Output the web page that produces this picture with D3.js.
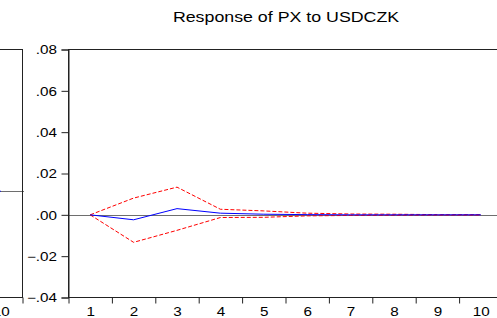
<!DOCTYPE html>
<html>
<head>
<meta charset="utf-8">
<script src="https://cdn.jsdelivr.net/npm/d3@7"></script>
<style>
  html, body { margin: 0; padding: 0; background: #fff; }
  svg { display: block; }
  text { font-family: "Liberation Sans", Arial, sans-serif; fill: #000; }
</style>
</head>
<body>
<svg id="chart" width="497" height="318"></svg>
<script>
// ---- data ----
const periods = [1, 2, 3, 4, 5, 6, 7, 8, 9, 10];
const response = [0.0000, -0.0024, 0.0030, 0.0008, 0.0003, 0.0001, 0.0000, 0.0000, 0.0000, 0.0000];
const upperBand = [0.0000, 0.0081, 0.0134, 0.0027, 0.0019, 0.0008, 0.0004, 0.0003, 0.0001, 0.0001];
const lowerBand = [0.0000, -0.0133, -0.0075, -0.0013, -0.0012, -0.0005, -0.0003, -0.0002, -0.0001, -0.0001];
const yTicks = [-0.04, -0.02, 0.00, 0.02, 0.04, 0.06, 0.08];
const title = "Response of PX to USDCZK";
// neighbouring (cropped) panel: only its last periods are visible
const leftResponse = [0.0000, 0.0000];
const leftPeriods = [9, 10];

const svg = d3.select("#chart");
const SX = 1.27; // horizontal text stretch seen in the reference
const fmt = v => (v === 0 ? ".00" : d3.format(".2f")(v).replace("0.", "."));

// ---- main panel ----
const x = d3.scaleLinear().domain([0.5, 10.5]).range([68.5, 502.5]);
const y = d3.scaleLinear().domain([-0.04, 0.08]).range([297.5, 49.5]);

// title
svg.append("text")
  .attr("transform", `translate(286,22) scale(${SX},1)`)
  .attr("text-anchor", "middle")
  .style("font-size", "14px")
  .text(title);

// zero line
svg.append("line")
  .attr("x1", x(0.5)).attr("x2", x(10.5))
  .attr("y1", Math.round(y(0)) + 0.5).attr("y2", Math.round(y(0)) + 0.5)
  .attr("stroke", "#6e6e6e").attr("stroke-width", 1.2);

// frame
svg.append("rect")
  .attr("x", x(0.5)).attr("y", y(0.08))
  .attr("width", x(10.5) - x(0.5)).attr("height", y(-0.04) - y(0.08))
  .attr("fill", "none").attr("stroke", "#222").attr("stroke-width", 1);

// y axis
const yAxis = svg.append("g").attr("transform", `translate(${x(0.5)},0)`)
  .call(d3.axisLeft(y).tickValues(yTicks).tickSize(7).tickFormat(fmt));
yAxis.select(".domain").attr("stroke", "#222");
yAxis.selectAll(".tick line").attr("stroke", "#222");
yAxis.selectAll(".tick text")
  .attr("x", -11.5 / SX).attr("dy", "0.36em")
  .attr("transform", `scale(${SX},1)`)
  .style("font-size", "12px").style("font-family", '"Liberation Sans", Arial, sans-serif');

// x axis: boundary ticks
const boundaries = d3.range(0.5, 11, 1);
const xTickAxis = svg.append("g").attr("transform", `translate(0,${y(-0.04)})`)
  .call(d3.axisBottom(x).tickValues(boundaries).tickSize(6).tickFormat(""));
xTickAxis.select(".domain").remove();
xTickAxis.selectAll(".tick line").attr("stroke", "#222");
// x axis labels
const xLabAxis = svg.append("g").attr("transform", `translate(0,${y(-0.04)})`)
  .call(d3.axisBottom(x).tickValues(periods).tickSize(0).tickFormat(d3.format("d")));
xLabAxis.select(".domain").remove();
xLabAxis.selectAll(".tick text")
  .attr("y", 10).attr("dy", "0.71em")
  .attr("transform", `scale(${SX},1)`)
  .style("font-size", "12px").style("font-family", '"Liberation Sans", Arial, sans-serif');

// series
const line = d3.line().x((d, i) => x(periods[i])).y(d => y(d));
svg.append("path").datum(upperBand).attr("d", line)
  .attr("fill", "none").attr("stroke", "#ff0000").attr("stroke-width", 1).attr("stroke-dasharray", "4,2");
svg.append("path").datum(lowerBand).attr("d", line)
  .attr("fill", "none").attr("stroke", "#ff0000").attr("stroke-width", 1).attr("stroke-dasharray", "4,2");
svg.append("path").datum(response).attr("d", line)
  .attr("fill", "none").attr("stroke", "#0000ff").attr("stroke-width", 1);

// ---- left (cropped) panel ----
const xL = d3.scaleLinear().domain([0.5, 10.5]).range([-411.5, 22.5]);
const yL = d3.scaleLinear().domain([-0.06, 0.08]).range([297.5, 49.5]);
svg.append("line")
  .attr("x1", xL(9)).attr("x2", 24)
  .attr("y1", Math.round(yL(0)) + 0.5).attr("y2", Math.round(yL(0)) + 0.5)
  .attr("stroke", "#6e6e6e").attr("stroke-width", 1.2);
svg.append("rect")
  .attr("x", xL(0.5)).attr("y", yL(0.08))
  .attr("width", xL(10.5) - xL(0.5)).attr("height", yL(-0.06) - yL(0.08))
  .attr("fill", "none").attr("stroke", "#222").attr("stroke-width", 1);
const xLTick = svg.append("g").attr("transform", `translate(0,${yL(-0.06)})`)
  .call(d3.axisBottom(xL).tickValues([10.5]).tickSize(6).tickFormat(""));
xLTick.select(".domain").remove();
xLTick.selectAll(".tick line").attr("stroke", "#222");
const xLLab = svg.append("g").attr("transform", `translate(0,${yL(-0.06)})`)
  .call(d3.axisBottom(xL).tickValues([10]).tickSize(0).tickFormat(d3.format("d")));
xLLab.select(".domain").remove();
xLLab.selectAll(".tick text")
  .attr("y", 10).attr("dy", "0.71em")
  .attr("transform", `scale(${SX},1)`)
  .style("font-size", "12px").style("font-family", '"Liberation Sans", Arial, sans-serif');
const lineL = d3.line().x((d, i) => xL(leftPeriods[i])).y(d => yL(d));
svg.append("path").datum(leftResponse).attr("d", lineL)
  .attr("fill", "none").attr("stroke", "#0000ff").attr("stroke-width", 1);
</script>
</body>
</html>
